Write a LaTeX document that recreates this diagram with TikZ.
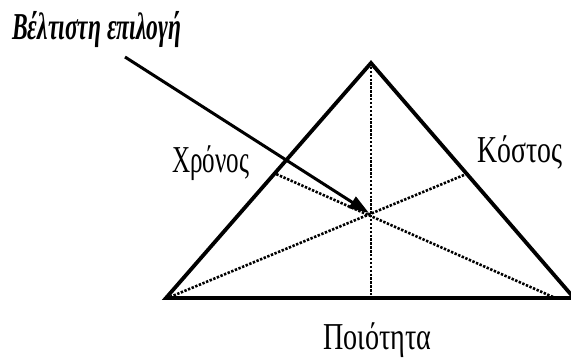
\documentclass[tikz,border=0pt]{standalone}
\usepackage{fontspec}
\setmainfont{Liberation Serif}
\usetikzlibrary{arrows.meta}
\begin{document}
\begin{tikzpicture}[x=1pt,y=-1pt,
  side/.style={line width=3.8pt,line join=miter},
  median/.style={line width=2.6pt,dash pattern=on 2.4pt off 1.5pt},
  pointer/.style={line width=3pt,-{Triangle[length=20pt,width=13pt]}},
  lbl/.style={inner sep=0pt,anchor=base west,font=\fontsize{38}{38}\selectfont}]
\useasboundingbox (0,0) rectangle (571,358);
\coordinate (A) at (371,63);
\coordinate (L) at (166,298);
\coordinate (R) at (574,298);
\draw[side] (L) -- (A) -- (R) -- cycle;
\coordinate (mL) at (276,174);
\coordinate (mR) at (464,175);
\coordinate (mB) at (371,298);
\coordinate (L2) at (170,297);
\coordinate (R2) at (553,297);
\coordinate (G) at (369,213);
\draw[median] (A) -- (mB);
\draw[median] (L2) -- (mR);
\draw[median] (R2) -- (mL);
\coordinate (S) at (125,57);
\draw[pointer] (S) -- (G);
\node[lbl] (best) at (12,40) {\scalebox{0.62}[1]{\bfseries\itshape Βέλτιστη επιλογή}};
\node[lbl] (time) at (172,173) {\scalebox{0.66}[1]{Χρόνος}};
\node[lbl] (cost) at (477,163) {\scalebox{0.73}[1]{Κόστος}};
\node[lbl] (qual) at (323,350) {\scalebox{0.74}[1]{Ποιότητα}};
\end{tikzpicture}
\end{document}
